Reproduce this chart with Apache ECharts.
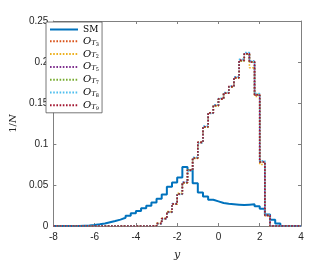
<!DOCTYPE html>
<html><head><meta charset="utf-8">
<script src="https://cdn.jsdelivr.net/npm/echarts@6/dist/echarts.min.js"></script>
<style>html,body{margin:0;padding:0;background:#fff}#c{width:332px;height:266px}</style>
</head><body><div id="c"></div>
<script>
// Left edges of histogram bins (width 0.25) plus final right edge
const binEdges = [-8,-7.75,-7.5,-7.25,-7,-6.75,-6.5,-6.25,-6,-5.75,-5.5,-5.25,-5,-4.75,-4.5,-4.25,
  -4,-3.75,-3.5,-3.25,-3,-2.75,-2.5,-2.25,-2,-1.75,-1.5,-1.25,-1,-0.75,-0.5,-0.25,
  0,0.25,0.5,0.75,1,1.25,1.5,1.75,2,2.25,2.5,2.75,3,3.25,3.5,3.75,4];
const xTicks = [-8,-6,-4,-2,0,2,4];
const yTicks = [0,0.05,0.1,0.15,0.2,0.25];
const seriesNames = ['SM','T1','T2','T3','T4','T5','T6'];
const legendSubs = ['3','2','5','7','8','9'];
const SM = [0,0,0,0,0,0.0003,0.0006,0.0012,0.002,0.003,0.0045,0.006,0.0078,0.010,0.0125,0.0155,
  0.0184,0.0215,0.0247,0.0286,0.0333,0.0384,0.048,0.053,0.059,0.072,0.068,0.052,0.041,0.036,0.032,0.030,
  0.028,0.027,0.0265,0.026,0.0255,0.026,0.0265,0.024,0.021,0.014,0.0075,0.003,0,0,0,0];
const OT1 = [0,0,0,0,0,0,0,0,0,0,0,0,0,0,0,0,
  0,0,0,0.0003,0.003,0.009,0.017,0.027,0.039,0.053,0.068,0.083,0.102,0.121,0.138,0.147,
  0.155,0.162,0.170,0.181,0.202,0.210,0.200,0.160,0.078,0.013,0,0,0,0,0,0];
const OT2 = [0,0,0,0,0,0,0,0,0,0,0,0,0,0,0,0,
  0,0,0,0.0003,0.0032,0.0092,0.0175,0.0265,0.040,0.0525,0.0685,0.0825,0.1015,0.1205,0.1375,0.1465,
  0.1545,0.1625,0.1695,0.1805,0.2015,0.2095,0.193,0.158,0.075,0.0125,0,0,0,0,0,0];
const OT3 = [0,0,0,0,0,0,0,0,0,0,0,0,0,0,0,0,
  0,0,0,0.0002,0.0029,0.0088,0.0168,0.0272,0.0388,0.0532,0.0678,0.0832,0.1018,0.1212,0.1378,0.1472,
  0.1548,0.1622,0.1702,0.1812,0.2025,0.2105,0.2005,0.1595,0.0785,0.0128,0,0,0,0,0,0];
const OT4 = [0,0,0,0,0,0,0,0,0,0,0,0,0,0,0,0,
  0,0,0,0.0003,0.0031,0.0091,0.0172,0.0268,0.0392,0.0528,0.0682,0.0828,0.1022,0.1208,0.1382,0.1468,
  0.1552,0.1618,0.1698,0.1808,0.2012,0.2098,0.2002,0.1605,0.0778,0.0132,0,0,0,0,0,0];
const OT5 = [0,0,0,0,0,0,0,0,0,0,0,0,0,0,0,0,
  0,0,0,0.0003,0.0028,0.0087,0.0166,0.0275,0.0385,0.0535,0.0672,0.0838,0.1012,0.1218,0.1372,0.1478,
  0.1558,0.1628,0.1708,0.1818,0.2032,0.2115,0.2015,0.1615,0.0795,0.0135,0,0,0,0,0,0];
const OT6 = [0,0,0,0,0,0,0,0,0,0,0,0,0,0,0,0,
  0,0,0,0.0003,0.003,0.009,0.017,0.027,0.039,0.053,0.068,0.083,0.102,0.121,0.138,0.147,
  0.155,0.162,0.170,0.181,0.202,0.210,0.200,0.160,0.078,0.013,0,0,0,0,0,0];
const colors = ['#0072BD','#D95319','#EDB120','#7E2F8E','#77AC30','#4DBEEE','#A2142F'];

function toPairs(vals){
  const d = vals.map((v,i)=>[binEdges[i], v]);
  d.push([binEdges[binEdges.length-1], vals[vals.length-1]]);
  return d;
}
const allVals = [SM, OT1, OT2, OT3, OT4, OT5, OT6];
const series = allVals.map((vals,i)=>({
  name: seriesNames[i], type:'line', step:'end', data: toPairs(vals),
  symbol:'none', showSymbol:false, animation:false,
  lineStyle:{color:colors[i], width: i===0?2:1.6, type: i===0?'solid':[1.6,1.6]},
  itemStyle:{color:colors[i]}
}));
const axisColor = '#808080';
const labelStyle = {color:'#262626', fontFamily:'Liberation Sans', fontSize:10};
const chart = echarts.init(document.getElementById('c'), null, {renderer:'canvas'});
chart.setOption({
  animation:false,
  grid:{left:42, right:31, top:21, bottom:33},
  legend:{
    orient:'vertical', left:46, top:22, itemWidth:28, itemHeight:9, itemGap:2.3,
    padding:[3,3,2,3], borderColor:'#555', borderWidth:0.8, backgroundColor:'#fff',
    data: seriesNames,
    itemStyle:{opacity:0},
    formatter: function(name){
      const i = seriesNames.indexOf(name);
      if(i===0) return '{sm|SM}';
      return '{o|O}{t|T}{s|'+legendSubs[i-1]+'}';
    },
    textStyle:{rich:{
      sm:{fontFamily:'DejaVu Serif', fontSize:9, color:'#000'},
      o:{fontFamily:'DejaVu Serif', fontStyle:'italic', fontSize:10, color:'#000'},
      t:{fontFamily:'DejaVu Serif', fontStyle:'italic', fontSize:7, color:'#000', padding:[3,0,0,0]},
      s:{fontFamily:'DejaVu Serif', fontSize:5, color:'#000', padding:[6,0,0,0]}
    }}
  },
  xAxis:[{
    type:'value', min:-8, max:4, interval:2, position:'bottom',
    axisLine:{onZero:false, lineStyle:{color:axisColor, width:1}},
    axisTick:{inside:true, length:3, lineStyle:{color:axisColor}},
    axisLabel:Object.assign({margin:6, formatter:v=>xTicks.includes(v)?String(v):''}, labelStyle),
    splitLine:{show:false},
    name:'y', nameLocation:'middle', nameGap:24,
    nameTextStyle:{fontFamily:'DejaVu Serif', fontStyle:'italic', fontSize:11, color:'#262626'}
  },{
    type:'value', min:-8, max:4, interval:2, position:'top',
    axisLine:{onZero:false, lineStyle:{color:axisColor, width:1}},
    axisTick:{inside:true, length:3, lineStyle:{color:axisColor}},
    axisLabel:{show:false}, splitLine:{show:false}
  }],
  yAxis:[{
    type:'value', min:0, max:0.25, interval:0.05, position:'left',
    axisLine:{show:true, onZero:false, lineStyle:{color:axisColor, width:1}},
    axisTick:{show:true, inside:true, length:3, lineStyle:{color:axisColor}},
    axisLabel:Object.assign({margin:5, formatter:v=>{const t=yTicks.find(x=>Math.abs(x-v)<1e-9);return t===undefined?'':String(t);}}, labelStyle),
    splitLine:{show:false},
    name:'{a|1/}{b|N}', nameLocation:'middle', nameGap:33,
    nameTextStyle:{color:'#262626', rich:{
      a:{fontFamily:'DejaVu Serif', fontSize:10, color:'#262626'},
      b:{fontFamily:'DejaVu Serif', fontStyle:'italic', fontSize:10, color:'#262626'}
    }}
  },{
    type:'value', min:0, max:0.25, interval:0.05, position:'right',
    axisLine:{show:true, onZero:false, lineStyle:{color:axisColor, width:1}},
    axisTick:{show:true, inside:true, length:3, lineStyle:{color:axisColor}},
    axisLabel:{show:false}, splitLine:{show:false}
  }],
  series: series
});
</script></body></html>
